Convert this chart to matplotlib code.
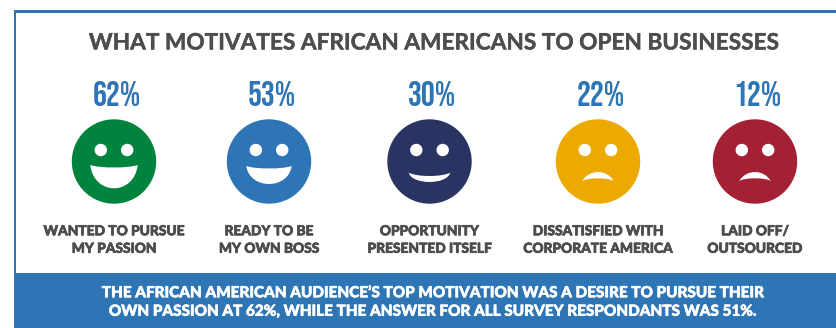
import matplotlib
matplotlib.use("Agg")
import matplotlib.pyplot as plt
import matplotlib.patheffects as pe
from matplotlib.patches import Circle, PathPatch, Rectangle
from matplotlib.path import Path

W, H = 837, 328
DPI = 100

title = "WHAT MOTIVATES AFRICAN AMERICANS TO OPEN BUSINESSES"
percents = [62, 53, 30, 22, 12]
labels = [
    "WANTED TO PURSUE\nMY PASSION",
    "READY TO BE\nMY OWN BOSS",
    "OPPORTUNITY\nPRESENTED ITSELF",
    "DISSATISFIED WITH\nCORPORATE AMERICA",
    "LAID OFF/\nOUTSOURCED",
]
footer = ("THE AFRICAN AMERICAN AUDIENCE\u2019S TOP MOTIVATION WAS A DESIRE TO PURSUE THEIR\n"
          "OWN PASSION AT 62%, WHILE THE ANSWER FOR ALL SURVEY RESPONDANTS WAS 51%.")

centers = [114, 269, 429.5, 598, 755]
face_colors = ["#00843d", "#2e75b6", "#2a3462", "#eca900", "#a32035"]
# half width, y of the corners, y of upper edge middle, y of lower edge middle
mouths = [
    (23.7, 3.5, 6.0, 26.8),
    (22.7, 4.5, 7.0, 22.5),
    (20.7, 11.2, 14.5, 20.5),
    (16.0, 20.2, 10.5, 16.8),
    (16.0, 20.2, 10.5, 16.8),
]

BLUE = "#2e75b6"
GREY = "#4d4d4f"
CY = 161.5
R = 42.2


def heavy(color, width):
    return [pe.withStroke(linewidth=width, foreground=color)]


def add_mouth(ax, cx, mouth):
    hw, end, top, bottom = mouth
    # cubic edges, control heights worked out from the wanted midpoints
    c_top = (top - 0.25 * end) / 0.75
    c_bot = (bottom - 0.25 * end) / 0.75
    verts = [(cx - hw, CY + end),
             (cx - hw * 0.6, CY + c_top), (cx + hw * 0.6, CY + c_top), (cx + hw, CY + end),
             (cx + hw * 0.85, CY + c_bot), (cx - hw * 0.85, CY + c_bot), (cx - hw, CY + end)]
    codes = [Path.MOVETO] + [Path.CURVE4] * 6
    ax.add_patch(PathPatch(Path(verts, codes), fc="white", ec="none", zorder=3))


fig = plt.figure(figsize=(W / DPI, H / DPI), dpi=DPI)
ax = fig.add_axes([0, 0, 1, 1])
ax.set_xlim(0, W)
ax.set_ylim(H, 0)
ax.axis("off")

# frame and footer band
ax.add_patch(Rectangle((14, 9.5), W - 14, 3, fc=BLUE, ec="none"))
ax.add_patch(Rectangle((14, 9.5), 2.5, H, fc=BLUE, ec="none"))
ax.add_patch(Rectangle((14, 273), W - 14, H - 273, fc=BLUE, ec="none"))

ax.text(434.5, 41, title, family="Lato", weight="bold", fontsize=16.3,
        color=GREY, ha="center", va="center_baseline", path_effects=heavy(GREY, 0.3))

for i, pct in enumerate(percents):
    cx = centers[i]
    ax.text(cx + 2.5, 93, "%d%%" % pct, family=["Bebas Neue", "Liberation Sans"],
            fontsize=25, color=BLUE, ha="center", va="center_baseline")
    ax.add_patch(Circle((cx, CY), R, fc=face_colors[i], ec="none", zorder=2))
    for dx in (-13.2, 13.2):
        ax.add_patch(Circle((cx + dx, CY - 11.5), 6.2, fc="white", ec="none", zorder=3))
    add_mouth(ax, cx, mouths[i])
    ax.text(cx, 240, labels[i], family="Lato", weight=900, fontsize=9.9, color=GREY,
            ha="center", va="center", linespacing=1.55, path_effects=heavy(GREY, 0.5))

ax.text(431.5, 302.5, footer, family="Lato", weight=900, fontsize=11, color="white",
        ha="center", va="center", linespacing=1.41, path_effects=heavy("white", 0.4))

fig.savefig("out.png", dpi=DPI)
